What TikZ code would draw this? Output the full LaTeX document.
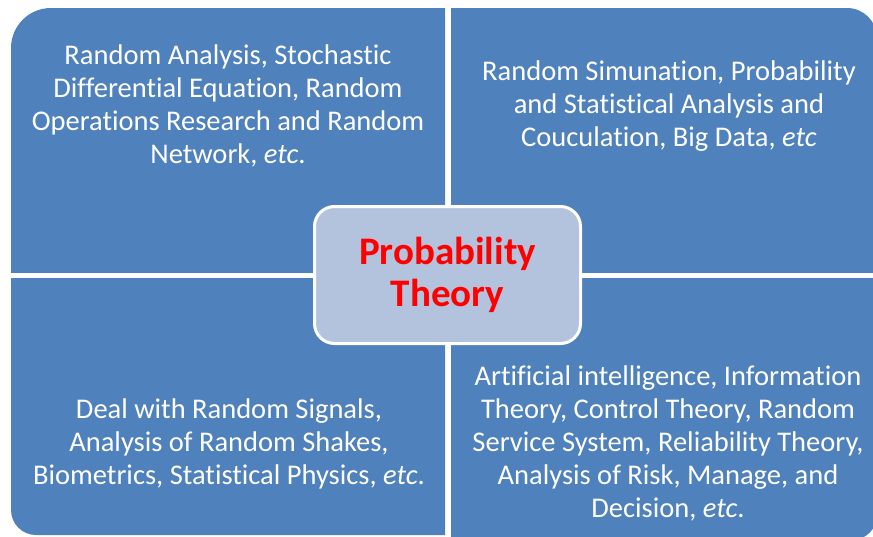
\documentclass[tikz,border=0pt]{standalone}
\usepackage{fontspec}
\setmainfont[Ligatures=NoCommon]{Carlito}
\usetikzlibrary{positioning}
\definecolor{officeblue}{RGB}{79,129,189}
\definecolor{paleblue}{RGB}{180,195,221}

\begin{document}
\begin{tikzpicture}[
            x=1pt, y=-1pt,
            quadrant/.style={fill=officeblue},
            quadtext/.style={text=white, align=center, inner sep=0pt, font=\fontsize{28.5}{33}\selectfont},
            centerbox/.style={draw=white, line width=3pt, fill=paleblue, rounded corners=20pt, minimum width=266pt, minimum height=137pt, align=center, text=red, font=\fontsize{39}{42}\selectfont\bfseries}
        ]
            \useasboundingbox (0,0) rectangle (873,536);
            % four quadrants, each with one rounded outer corner
            \begin{scope}
                \clip (11,8) rectangle (445,272);
                \fill[quadrant, rounded corners=40pt] (11,8) rectangle (545,372);
            \end{scope}
            \begin{scope}
                \clip (451,8) rectangle (873,272);
                \fill[quadrant, rounded corners=30pt] (351,8) rectangle (877,372);
            \end{scope}
            \begin{scope}
                \clip (11,278) rectangle (445,536);
                \fill[quadrant, rounded corners=25pt] (11,178) rectangle (545,535);
            \end{scope}
            \begin{scope}
                \clip (451,278) rectangle (873,536);
                \fill[quadrant, rounded corners=25pt] (351,178) rectangle (877,540);
            \end{scope}

            \node[quadtext] (stochastic) at (228,106) {Random Analysis, Stochastic\\Differential Equation, Random\\Operations Research and Random\\Network, \textit{etc}.};
            \node[quadtext] (simulation) at (669,106) {Random Simunation, Probability\\and Statistical Analysis and\\Couculation, Big Data, \textit{etc}};
            \node[quadtext] (signals) at (229,444) {Deal with Random Signals,\\Analysis of Random Shakes,\\Biometrics, Statistical Physics, \textit{etc}.};
            \node[quadtext] (applied) at (668,443) {Artificial intelligence, Information\\Theory, Control Theory, Random\\Service System, Reliability Theory,\\Analysis of Risk, Manage, and\\Decision, \textit{etc}.};

            \node[centerbox] (probability) at (447.5,275) {Probability\\Theory};
        \end{tikzpicture}
\end{document}
